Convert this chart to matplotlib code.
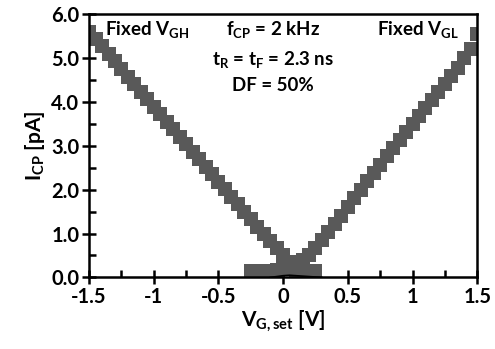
import numpy as np
import matplotlib
matplotlib.use("Agg")
import matplotlib.pyplot as plt
from matplotlib.ticker import MultipleLocator, FixedLocator

plt.rcParams['font.family'] = ['Lato', 'DejaVu Sans']
plt.rcParams['font.weight'] = 'bold'
plt.rcParams['axes.labelweight'] = 'bold'
plt.rcParams['mathtext.fontset'] = 'custom'
plt.rcParams['mathtext.rm'] = 'Lato:bold'
plt.rcParams['mathtext.it'] = 'Lato:bold'
plt.rcParams['mathtext.bf'] = 'Lato:bold'

# fixed V_GH sweep (descending branch + low tail)
vgh_x = [-1.50, -1.45, -1.40, -1.35, -1.30, -1.25, -1.20, -1.15, -1.10, -1.05,
         -1.00, -0.95, -0.90, -0.85, -0.80, -0.75, -0.70, -0.65, -0.60, -0.55,
         -0.50, -0.45, -0.40, -0.35, -0.30, -0.25, -0.20, -0.15, -0.10, -0.05,
         0.00, 0.05, 0.10, 0.15, 0.20, 0.25]
vgh_y = [5.60, 5.42, 5.26, 5.08, 4.92, 4.74, 4.57, 4.40, 4.23, 4.06,
         3.89, 3.72, 3.55, 3.38, 3.20, 3.03, 2.86, 2.69, 2.52, 2.35,
         2.18, 2.01, 1.84, 1.67, 1.50, 1.33, 1.16, 0.99, 0.83, 0.66,
         0.50, 0.36, 0.16, 0.15, 0.15, 0.15]

# fixed V_GL sweep (low tail + rising branch)
vgl_x = [-0.25, -0.20, -0.15, -0.10, -0.05, 0.00, 0.05, 0.10, 0.15, 0.20,
         0.25, 0.30, 0.35, 0.40, 0.45, 0.50, 0.55, 0.60, 0.65, 0.70,
         0.75, 0.80, 0.85, 0.90, 0.95, 1.00, 1.05, 1.10, 1.15, 1.20,
         1.25, 1.30, 1.35, 1.40, 1.45, 1.50]
vgl_y = [0.15, 0.15, 0.15, 0.15, 0.16, 0.22, 0.30, 0.34, 0.40, 0.50,
         0.68, 0.86, 1.03, 1.21, 1.41, 1.61, 1.80, 2.00, 2.19, 2.38,
         2.57, 2.76, 2.95, 3.13, 3.32, 3.50, 3.68, 3.86, 4.04, 4.22,
         4.40, 4.59, 4.78, 4.99, 5.21, 5.55]

# small black trace near zero
blk_x = [-0.10, -0.05, 0.00, 0.05, 0.10, 0.15, 0.20, 0.25, 0.30]
blk_y = [0.00, 0.02, 0.04, 0.05, 0.04, 0.03, 0.02, 0.01, 0.00]

fig = plt.figure(figsize=(4.95, 3.49), dpi=100)
ax = fig.add_axes([0.180, 0.205, 0.784, 0.755])

grey = '#595959'
ax.plot(vgh_x, vgh_y, 's', color=grey, markersize=9.5, markeredgewidth=0)
ax.plot(vgl_x, vgl_y, 's', color=grey, markersize=9.5, markeredgewidth=0)
ax.plot(blk_x, blk_y, '-', color='black', lw=1.2)

ax.set_xlim(-1.5, 1.5)
ax.set_ylim(0, 6.0)
ax.xaxis.set_major_locator(FixedLocator([-1.5, -1, -0.5, 0, 0.5, 1, 1.5]))
ax.set_xticklabels(['-1.5', '-1', '-0.5', '0', '0.5', '1', '1.5'])
ax.xaxis.set_minor_locator(MultipleLocator(0.25))
ax.yaxis.set_major_locator(MultipleLocator(1.0))
ax.yaxis.set_minor_locator(MultipleLocator(0.5))
ax.set_yticklabels(['%.1f' % v for v in ax.get_yticks()])

for s in ax.spines.values():
    s.set_linewidth(1.8)
ax.tick_params(which='major', direction='inout', length=10, width=1.8,
               labelsize=14.5, pad=2)
ax.tick_params(which='minor', direction='in', length=5, width=1.8)
ax.tick_params(axis='x', which='both', top=False)
ax.tick_params(axis='y', which='both', right=False)

ax.set_xlabel('V$_{G,set}$ [V]', fontsize=15, labelpad=1)
ax.set_ylabel('I$_{CP}$ [pA]', fontsize=15, labelpad=3)

ax.text(-1.38, 5.64, 'Fixed V$_{GH}$', fontsize=13.5, ha='left', va='center')
ax.text(1.36, 5.64, 'Fixed V$_{GL}$', fontsize=13.5, ha='right', va='center')
ax.text(-0.08, 5.64, 'f$_{CP}$ = 2 kHz', fontsize=13.5, ha='center', va='center')
ax.text(-0.08, 4.97, 't$_{R}$ = t$_{F}$ = 2.3 ns', fontsize=13.5, ha='center', va='center')
ax.text(-0.08, 4.36, 'DF = 50%', fontsize=13.5, ha='center', va='center')

fig.savefig('out.png', dpi=100)
